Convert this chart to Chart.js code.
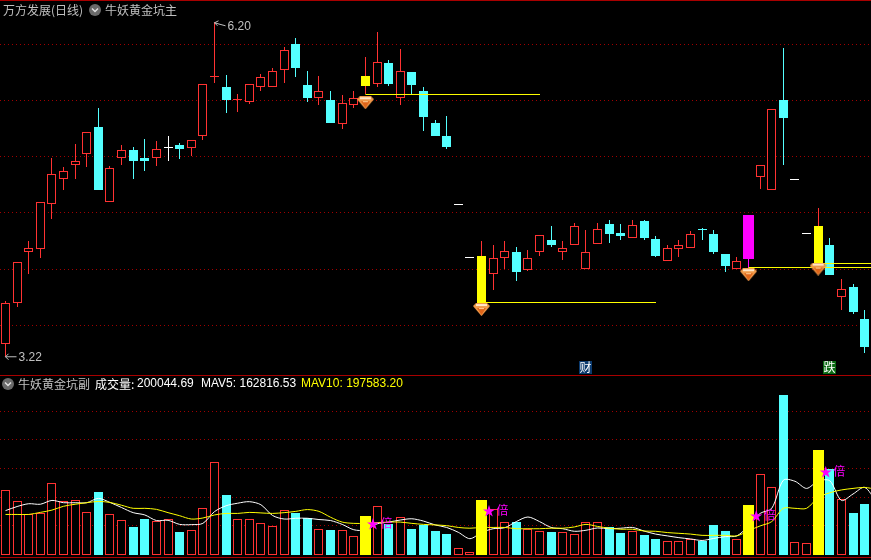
<!DOCTYPE html>
<html>
<head>
<meta charset="utf-8">
<style>
html, body { margin: 0; padding: 0; background: #000; }
canvas { display: block; }
</style>
<script src="https://cdn.jsdelivr.net/npm/chart.js@4/dist/chart.umd.min.js"></script>
</head>
<body>
<canvas id="chart" width="871" height="560" style="width:871px;height:560px"></canvas>
<script>
// daily candles
const opens = [3.33,3.70,4.15,4.18,4.58,4.80,4.93,5.02,5.26,4.60,4.99,5.06,4.99,4.99,5.09,5.10,5.08,5.18,5.71,5.62,5.50,5.49,5.62,5.62,5.77,
  6.00,5.64,5.52,5.50,5.29,5.46,5.72,5.65,5.83,5.52,5.75,5.58,5.30,5.18,4.58,4.11,4.12,3.96,4.10,4.15,3.99,4.15,4.26,4.15,4.21,
  4.00,4.22,4.40,4.32,4.28,4.43,4.27,4.07,4.18,4.19,4.36,4.31,4.13,4.00,4.48,4.82,4.70,5.50,4.80,4.32,4.38,4.21,3.75,3.84,3.56];
const closes = [3.70,4.06,4.19,4.60,4.85,4.87,4.96,5.22,4.70,4.90,5.06,4.96,4.96,5.07,5.09,5.07,5.15,5.65,5.72,5.50,5.51,5.65,5.71,5.76,5.95,
  5.79,5.52,5.58,5.30,5.48,5.52,5.63,5.84,5.65,5.76,5.64,5.35,5.18,5.09,4.58,4.11,3.70,4.10,4.16,3.97,4.10,4.30,4.21,4.19,4.38,
  4.15,4.36,4.31,4.29,4.39,4.28,4.12,4.19,4.21,4.31,4.35,4.15,4.03,4.07,4.09,4.93,5.42,5.34,4.80,4.32,4.05,3.95,3.82,3.62,3.31];
const highs = [3.72,4.06,4.25,4.60,4.99,4.91,5.11,5.22,5.43,4.92,5.10,5.09,5.16,5.14,5.18,5.12,5.15,5.65,6.20,5.73,5.56,5.65,5.74,5.79,5.98,
  6.06,5.76,5.72,5.58,5.55,5.58,5.89,6.11,5.86,5.96,5.75,5.62,5.33,5.36,4.58,4.11,4.25,4.21,4.25,4.20,4.17,4.30,4.38,4.25,4.41,
  4.35,4.41,4.44,4.40,4.44,4.44,4.29,4.21,4.26,4.34,4.37,4.35,4.13,4.11,4.48,4.93,5.42,5.97,4.80,4.32,4.54,4.28,3.91,3.87,3.64];
const lows = [3.22,3.66,3.96,4.10,4.45,4.70,4.80,4.91,4.70,4.60,4.93,4.80,4.87,4.92,4.96,4.98,5.01,5.15,5.66,5.39,5.40,5.47,5.58,5.62,5.66,
  5.71,5.49,5.46,5.30,5.25,5.43,5.56,5.62,5.63,5.46,5.56,5.23,5.18,5.07,4.58,4.11,3.70,3.81,4.00,3.89,3.98,4.12,4.20,4.08,4.21,
  4.00,4.22,4.23,4.26,4.28,4.26,4.11,4.07,4.11,4.19,4.26,4.13,3.97,4.00,4.01,4.71,4.70,4.93,4.80,4.32,4.05,3.95,3.64,3.60,3.25];

// volume in thousands
const volumes = [254,211,161,163,281,211,214,167,247,160,136,110,141,132,140,90,97,183,363,235,140,140,124,113,175,
  165,144,101,98,97,73,153,191,122,148,102,119,94,82,27,12,216,179,128,129,101,93,90,89,81,
  128,128,109,86,93,78,63,54,54,62,55,118,94,62,196,316,265,627,51,47,412,337,218,165,200];
const mav5 = [174,190,201,199,214,205,205,205,222,206,186,166,157,135,136,120,119,124,170,193,203,209,197,155,141,
  144,144,139,135,120,99,98,122,129,137,142,133,118,108,89,64,88,103,107,131,149,131,108,103,93,
  97,106,103,105,108,94,82,75,68,63,57,65,72,75,114,163,183,293,289,261,290,291,214,239,265,209];
const mav10 = [159,159,159,167,176,191,199,205,210,206,195,183,183,179,166,154,141,145,157,163,163,167,165,163,166,
  171,178,171,148,129,124,124,127,129,129,124,120,118,115,108,105,108,108,108,103,103,103,105,105,110,
  120,112,105,101,101,94,93,88,85,82,77,77,77,75,95,114,131,183,183,183,225,244,255,261,265,257];

// signal days
const yellowCandles = [31, 41, 70];
const magentaCandles = [64];
const yellowVolumes = [31, 41, 64, 70];
const diamonds = [[31, 5.48], [41, 3.64], [64, 3.95], [70, 4.00]];
const stars = [[32, 125], [42, 176], [65, 157], [71, 329]];
const supportLines = [[31, 46.04, 5.5533], [41, 56.03, 3.7028], [64, 75, 4.0142], [70, 75, 4.0498]];
const badges = [[50, '财', '#0b3a6e'], [71, '跌', '#0c6a14']];

const priceTicks = [3.5, 4, 4.5, 5, 5.5, 6];
const volumeTicks = [116, 226, 340, 453, 563];

const RED = '#ff3232', CYAN = '#54ffff', YELLOW = '#ffff00', MAGENTA = '#ff00ff', WHITE = '#ffffff';
const GRAY = '#c0c0c0', LINE = '#a80000';

const idx = opens.map((_, i) => i);

function candleColor(i) {
  if (yellowCandles.includes(i)) return YELLOW;
  if (closes[i] > opens[i]) return RED;
  if (closes[i] < opens[i]) return CYAN;
  return WHITE;
}
function wickColor(i) {
  if (yellowCandles.includes(i)) return RED;
  if (magentaCandles.includes(i)) return MAGENTA;
  return candleColor(i);
}
function isHollow(i) {
  return candleColor(i) === RED;
}

function diamondIcon() {
  const c = document.createElement('canvas');
  c.width = 17; c.height = 13;
  const g = c.getContext('2d');
  g.fillStyle = '#f09a4a';
  g.beginPath();
  g.moveTo(3, 0); g.lineTo(14, 0); g.lineTo(17, 3); g.lineTo(8.5, 13); g.lineTo(0, 3);
  g.closePath(); g.fill();
  g.fillStyle = '#ffe6c8';
  g.fillRect(3, 1, 11, 2);
  g.fillStyle = '#e0661a';
  g.beginPath();
  g.moveTo(4, 5); g.lineTo(13, 5); g.lineTo(8.5, 12);
  g.closePath(); g.fill();
  g.fillStyle = '#ffc890';
  g.fillRect(6, 5, 5, 1);
  return c;
}

// bars drawn on whole pixels, like the terminal does
const snapBars = {
  id: 'snapBars',
  beforeDatasetsDraw(chart) {
    chart.getSortedVisibleDatasetMetas().forEach(meta => {
      if (meta.type !== 'bar') return;
      meta.data.forEach(el => {
        el.x = Math.floor(el.x) + 0.5;
        const top = Math.round(Math.min(el.y, el.base));
        let bottom = Math.round(Math.max(el.y, el.base));
        if (bottom <= top) bottom = top + 1;
        el.y = top;
        el.base = bottom;
      });
    });
  }
};

function text(ctx, s, x, y, color, font, align) {
  ctx.fillStyle = color;
  ctx.font = font || '12px "Noto Sans CJK SC"';
  ctx.textAlign = align || 'left';
  ctx.textBaseline = 'middle';
  ctx.fillText(s, x, y);
}

function menuIcon(ctx, x, y) {
  ctx.fillStyle = '#6a6a6a';
  ctx.beginPath();
  ctx.arc(x, y, 6, 0, Math.PI * 2);
  ctx.fill();
  ctx.strokeStyle = '#e0e0e0';
  ctx.lineWidth = 1.5;
  ctx.beginPath();
  ctx.moveTo(x - 3, y - 1.5); ctx.lineTo(x, y + 1.5); ctx.lineTo(x + 3, y - 1.5);
  ctx.stroke();
}

const overlay = {
  id: 'overlay',
  afterDatasetsDraw(chart) {
    const ctx = chart.ctx, sx = chart.scales.x, sy = chart.scales.price, sv = chart.scales.volume;
    const latin = '12px "Liberation Sans"';
    ctx.save();

    // pane borders
    ctx.fillStyle = LINE;
    ctx.fillRect(0, 0, 871, 1);
    ctx.fillRect(0, 375, 871, 1);
    ctx.fillRect(0, 557, 871, 1);

    // headers
    text(ctx, '万方发展(日线)', 3, 10, GRAY);
    menuIcon(ctx, 95, 10);
    text(ctx, '牛妖黄金坑主', 105, 10, GRAY);
    menuIcon(ctx, 8, 384);
    text(ctx, '牛妖黄金坑副', 18, 384, GRAY);
    text(ctx, '成交量:', 95, 384, WHITE);
    text(ctx, '200044.69', 137, 384, WHITE, latin);
    text(ctx, 'MAV5: 162816.53', 201, 384, WHITE, latin);
    text(ctx, 'MAV10: 197583.20', 301, 384, YELLOW, latin);

    // high and low marks
    const hx = Math.floor(sx.getPixelForValue(18)) + 0.5, hy = sy.getPixelForValue(6.20);
    ctx.strokeStyle = GRAY;
    ctx.lineWidth = 1;
    ctx.beginPath();
    ctx.moveTo(hx, hy + 1); ctx.lineTo(hx + 11, hy + 4);
    ctx.moveTo(hx, hy + 1); ctx.lineTo(hx + 4, hy - 1);
    ctx.moveTo(hx, hy + 1); ctx.lineTo(hx + 3, hy + 4);
    ctx.stroke();
    text(ctx, '6.20', hx + 13, hy + 5, GRAY, latin);
    const lx = Math.floor(sx.getPixelForValue(0)) + 0.5, ly = sy.getPixelForValue(3.22);
    ctx.beginPath();
    ctx.moveTo(lx, ly); ctx.lineTo(lx + 11, ly);
    ctx.moveTo(lx, ly); ctx.lineTo(lx + 3, ly - 3);
    ctx.moveTo(lx, ly); ctx.lineTo(lx + 3, ly + 3);
    ctx.stroke();
    text(ctx, '3.22', lx + 13, ly + 1, GRAY, latin);

    // news badges on the pane floor
    badges.forEach(([i, s, color]) => {
      const x = Math.floor(sx.getPixelForValue(i));
      ctx.fillStyle = color;
      ctx.fillRect(x - 6, 361, 13, 13);
      text(ctx, s, x + 0.5, 367.5, WHITE, '12px "Noto Sans CJK SC"', 'center');
    });

    // volume stars
    stars.forEach(([i, v]) => {
      const x = sx.getPixelForValue(i), y = sv.getPixelForValue(v);
      text(ctx, '★', x - 4, y, MAGENTA, '13px "Noto Sans CJK SC"', 'center');
      text(ctx, '倍', x + 9.5, y, MAGENTA, '12px "Noto Sans CJK SC"', 'center');
    });
    ctx.restore();
  }
};

function barSet(data, opts) {
  return Object.assign({ type: 'bar', data, grouped: false, borderWidth: 0, borderSkipped: false, inflateAmount: 0 }, opts);
}

const icon = diamondIcon();
const plainCandles = idx.filter(i => !magentaCandles.includes(i));
const plainVolumes = idx.filter(i => !yellowVolumes.includes(i));

const datasets = [
  // price pane
  barSet(idx.map(i => ({ x: i, y: [lows[i], highs[i]] })), {
    yAxisID: 'price', barThickness: 1, order: 20,
    backgroundColor: idx.map(wickColor)
  }),
  barSet(plainCandles.map(i => ({ x: i, y: [opens[i], closes[i]] })), {
    yAxisID: 'price', barThickness: 9, order: 19, borderWidth: 1,
    backgroundColor: plainCandles.map(i => isHollow(i) ? '#000000' : candleColor(i)),
    borderColor: plainCandles.map(i => candleColor(i))
  }),
  barSet(magentaCandles.map(i => ({ x: i, y: [opens[i], closes[i]] })), {
    yAxisID: 'price', barThickness: 11, order: 18, backgroundColor: MAGENTA
  }),
  // volume pane
  barSet(plainVolumes.map(i => ({ x: i, y: [0, volumes[i]] })), {
    yAxisID: 'volume', barThickness: 9, order: 17, borderWidth: 1,
    backgroundColor: plainVolumes.map(i => closes[i] >= opens[i] ? '#000000' : CYAN),
    borderColor: plainVolumes.map(i => closes[i] >= opens[i] ? RED : CYAN)
  }),
  {
    type: 'line', yAxisID: 'volume', order: 10, borderColor: WHITE, borderWidth: 1, pointRadius: 0, tension: 0.3,
    data: mav5.map((v, i) => ({ x: i, y: v }))
  },
  {
    type: 'line', yAxisID: 'volume', order: 9, borderColor: YELLOW, borderWidth: 1, pointRadius: 0, tension: 0.3,
    data: mav10.map((v, i) => ({ x: i, y: v }))
  },
  barSet(yellowVolumes.map(i => ({ x: i, y: [0, volumes[i]] })), {
    yAxisID: 'volume', barThickness: 11, order: 8, backgroundColor: YELLOW
  })
];

supportLines.forEach(([from, to, price]) => {
  datasets.push({
    type: 'line', yAxisID: 'price', order: 5, borderColor: YELLOW, borderWidth: 1, pointRadius: 0,
    data: [{ x: from, y: price }, { x: to, y: price }]
  });
});

datasets.push({
  type: 'line', yAxisID: 'price', order: 1, showLine: false, pointStyle: icon, pointRadius: 8,
  data: diamonds.map(([x, y]) => ({ x, y }))
});

function gridAxis(min, max, ticks) {
  return {
    min, max,
    position: 'left',
    grid: { color: '#a00000', drawTicks: false, lineWidth: 1 },
    border: { display: false, dash: [1, 3] },
    ticks: { display: false },
    afterBuildTicks: axis => { axis.ticks = ticks.map(value => ({ value })); },
    afterFit: axis => { axis.width = 0; }
  };
}

new Chart(document.getElementById('chart'), {
  type: 'bar',
  data: { datasets },
  plugins: [snapBars, overlay],
  options: {
    responsive: false,
    animation: false,
    devicePixelRatio: 1,
    layout: { padding: 0, autoPadding: false },
    events: [],
    plugins: { legend: { display: false }, tooltip: { enabled: false } },
    scales: {
      x: { type: 'linear', min: -0.474, max: 74.55, offset: false, display: false, grid: { offset: false } },
      price: gridAxis(1.412, 6.394, priceTicks),
      volume: gridAxis(-19.6, 2175.6, volumeTicks)
    }
  }
});
</script>
</body>
</html>
